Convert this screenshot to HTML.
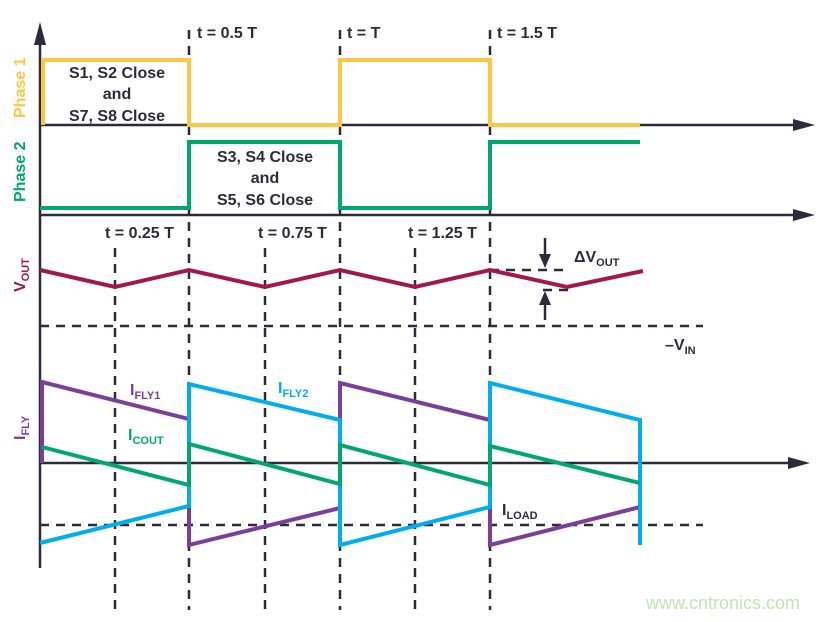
<!DOCTYPE html>
<html><head><style>body{margin:0;background:#fff}svg text{font-family:"Liberation Sans",sans-serif;font-weight:bold;fill:#2d2b3a}</style></head><body>
<svg width="831" height="617" viewBox="0 0 831 617" xmlns="http://www.w3.org/2000/svg">
<g stroke="#2d2b3a" stroke-width="2.5" stroke-dasharray="9,7" fill="none">
<line x1="189" y1="30" x2="189" y2="610"/><line x1="340" y1="30" x2="340" y2="610"/><line x1="490" y1="30" x2="490" y2="610"/>
<line x1="115" y1="248" x2="115" y2="610"/><line x1="265" y1="248" x2="265" y2="610"/><line x1="415" y1="248" x2="415" y2="610"/>
<line x1="40" y1="326" x2="703" y2="326"/><line x1="40" y1="525" x2="703" y2="525"/>
<line x1="490" y1="270" x2="568" y2="270"/><line x1="543" y1="290" x2="570" y2="290"/>
</g>
<g stroke="#2d2b3a" stroke-width="2.5" fill="none">
<line x1="40" y1="40" x2="40" y2="568"/>
<line x1="40" y1="125" x2="800" y2="125"/><line x1="40" y1="215" x2="800" y2="215"/><line x1="40" y1="463" x2="795" y2="463"/>
<line x1="545" y1="238" x2="545" y2="258"/><line x1="545" y1="302" x2="545" y2="320"/>
</g>
<g fill="#2d2b3a">
<polygon points="40,22 34,45 46,45"/><polygon points="815,125 793,119 793,131"/><polygon points="815,215 793,209 793,221"/><polygon points="810,463 788,457 788,469"/>
<polygon points="545,268 539,254 551,254"/><polygon points="545,291 539,305 551,305"/>
</g>
<g fill="none" stroke-width="4" stroke-linejoin="miter">
<polyline stroke="#fdc743" points="43,125 43,60 189,60 189,125 340,125 340,60 490,60 490,125 640,125"/>
<polyline stroke="#00a870" points="40,208 189,208 189,142 340,142 340,208 490,208 490,142 640,142"/>
<polyline stroke="#a3184a" points="40,270 115,287 189,270 265,287 340,270 415,287 490,270 567,287 643,271"/>
<polyline stroke="#7b3f98" points="42,463 42,382 189,419 189,545 340,508 340,383 490,420 490,545 640,507"/>
<polyline stroke="#00aeef" points="40,543 189,506 189,384 340,420 340,545 490,507 490,383 640,420 640,545"/>
<polyline stroke="#00a870" points="42,447 189,485 189,444 340,484 340,445 490,485 490,446 640,483"/>
</g>
<g font-size="16">
<text x="197" y="38">t = 0.5 T</text><text x="347" y="38">t = T</text><text x="497" y="38">t = 1.5 T</text>
<text x="105" y="238">t = 0.25 T</text><text x="258" y="238">t = 0.75 T</text><text x="408" y="238">t = 1.25 T</text>
<text x="117" y="78" text-anchor="middle">S1, S2 Close</text><text x="117" y="99" text-anchor="middle">and</text><text x="117" y="121" text-anchor="middle">S7, S8 Close</text>
<text x="265" y="162" text-anchor="middle">S3, S4 Close</text><text x="265" y="183" text-anchor="middle">and</text><text x="265" y="205" text-anchor="middle">S5, S6 Close</text>
<text x="574" y="262">ΔV<tspan font-size="11" dy="4">OUT</tspan></text>
<text x="665" y="350">–V<tspan font-size="11" dy="4">IN</tspan></text>
<text x="502" y="515">I<tspan font-size="11" dy="4">LOAD</tspan></text>
<text x="130" y="395" style="fill:#7b3f98">I<tspan font-size="11" dy="4">FLY1</tspan></text>
<text x="278" y="393" style="fill:#00aeef">I<tspan font-size="11" dy="4">FLY2</tspan></text>
<text x="128" y="440" style="fill:#00a870">I<tspan font-size="11" dy="4">COUT</tspan></text>
<text transform="translate(25,118) rotate(-90)" style="fill:#fdc743">Phase 1</text>
<text transform="translate(25,202) rotate(-90)" style="fill:#00a870">Phase 2</text>
<text transform="translate(25,292) rotate(-90)" style="fill:#a3184a">V<tspan font-size="11" dy="4">OUT</tspan></text>
<text transform="translate(25,440) rotate(-90)" style="fill:#7b3f98">I<tspan font-size="11" dy="4">FLY</tspan></text>
</g>
<text x="646" y="609" font-size="18" style="font-weight:normal;fill:#c4e3b5">www.cntronics.com</text>
</svg>
</body></html>
